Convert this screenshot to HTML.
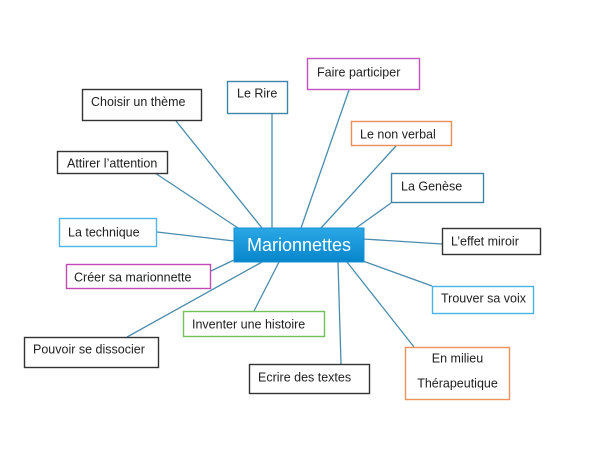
<!DOCTYPE html>
<html><head><meta charset="utf-8"><style>
html,body{margin:0;padding:0;background:#fff;}
svg{display:block;}
text{font-family:"Liberation Sans",sans-serif;font-size:12.5px;fill:#1e1e1e;}
</style></head><body>
<svg width="605" height="449" viewBox="0 0 605 449" xmlns="http://www.w3.org/2000/svg">
<defs>
<linearGradient id="g" x1="0" y1="0" x2="0" y2="1">
<stop offset="0" stop-color="#2aa8e6"/>
<stop offset="1" stop-color="#0886cb"/>
</linearGradient>
</defs>
<g stroke="#4a8cad" stroke-width="1.3" fill="none">
<line x1="176" y1="121" x2="262" y2="228"/>
<line x1="272" y1="114" x2="272" y2="228"/>
<line x1="155" y1="173" x2="238" y2="228"/>
<line x1="157" y1="232" x2="234" y2="241"/>
<line x1="349" y1="90" x2="301" y2="228"/>
<line x1="396" y1="146" x2="321" y2="228"/>
<line x1="391" y1="203" x2="356" y2="228"/>
<line x1="363" y1="239" x2="442" y2="244"/>
<line x1="363" y1="261" x2="432" y2="286"/>
<line x1="347" y1="262" x2="414" y2="347"/>
<line x1="338" y1="262" x2="341" y2="364"/>
<line x1="279" y1="262" x2="254" y2="311"/>
<line x1="262" y1="262" x2="127" y2="337"/>
<line x1="234" y1="260" x2="211" y2="271"/>
</g>
<g fill="#fff" stroke-width="1.4">
<rect x="82.5" y="89.5" width="119" height="31" stroke="#333"/>
<rect x="227.5" y="81.5" width="60" height="32" stroke="#3d84a8"/>
<rect x="57.5" y="151.5" width="110" height="22" stroke="#333"/>
<rect x="59.5" y="218.5" width="97" height="28" stroke="#4cb6e6"/>
<rect x="307.5" y="58.5" width="112" height="31" stroke="#c053c0"/>
<rect x="351.5" y="121.5" width="100" height="24" stroke="#f08c55"/>
<rect x="391.5" y="173.5" width="92" height="29" stroke="#3d84a8"/>
<rect x="442.5" y="228.5" width="98" height="26" stroke="#333"/>
<rect x="432.5" y="286.5" width="101" height="27" stroke="#45b3e3"/>
<rect x="405.5" y="347.5" width="104" height="52" stroke="#f0915c"/>
<rect x="249.5" y="364.5" width="120" height="29" stroke="#333"/>
<rect x="183.5" y="311.5" width="141" height="25" stroke="#72c156"/>
<rect x="24.5" y="337.5" width="134" height="30" stroke="#333"/>
<rect x="66.5" y="264.5" width="144" height="24" stroke="#c04ab2"/>
</g>
<rect x="234" y="228" width="130" height="34" fill="url(#g)" stroke="#1a8fcf" stroke-width="1"/>
<text x="299" y="251" text-anchor="middle" style="font-size:18px;fill:#fff;">Marionnettes</text>
<text x="91" y="106">Choisir un thème</text>
<text x="237" y="97.5">Le Rire</text>
<text x="67" y="167.5">Attirer l’attention</text>
<text x="68" y="236.5">La technique</text>
<text x="317" y="76.5">Faire participer</text>
<text x="360" y="138.5">Le non verbal</text>
<text x="401" y="190.5">La Genèse</text>
<text x="451" y="245.5">L’effet miroir</text>
<text x="441" y="302.5">Trouver sa voix</text>
<text x="457.5" y="362.5" text-anchor="middle">En milieu</text>
<text x="457.5" y="387.5" text-anchor="middle">Thérapeutique</text>
<text x="258" y="381.5">Ecrire des textes</text>
<text x="192" y="328.5">Inventer une histoire</text>
<text x="33" y="353.5">Pouvoir se dissocier</text>
<text x="74" y="281.5">Créer sa marionnette</text>
</svg>
</body></html>
